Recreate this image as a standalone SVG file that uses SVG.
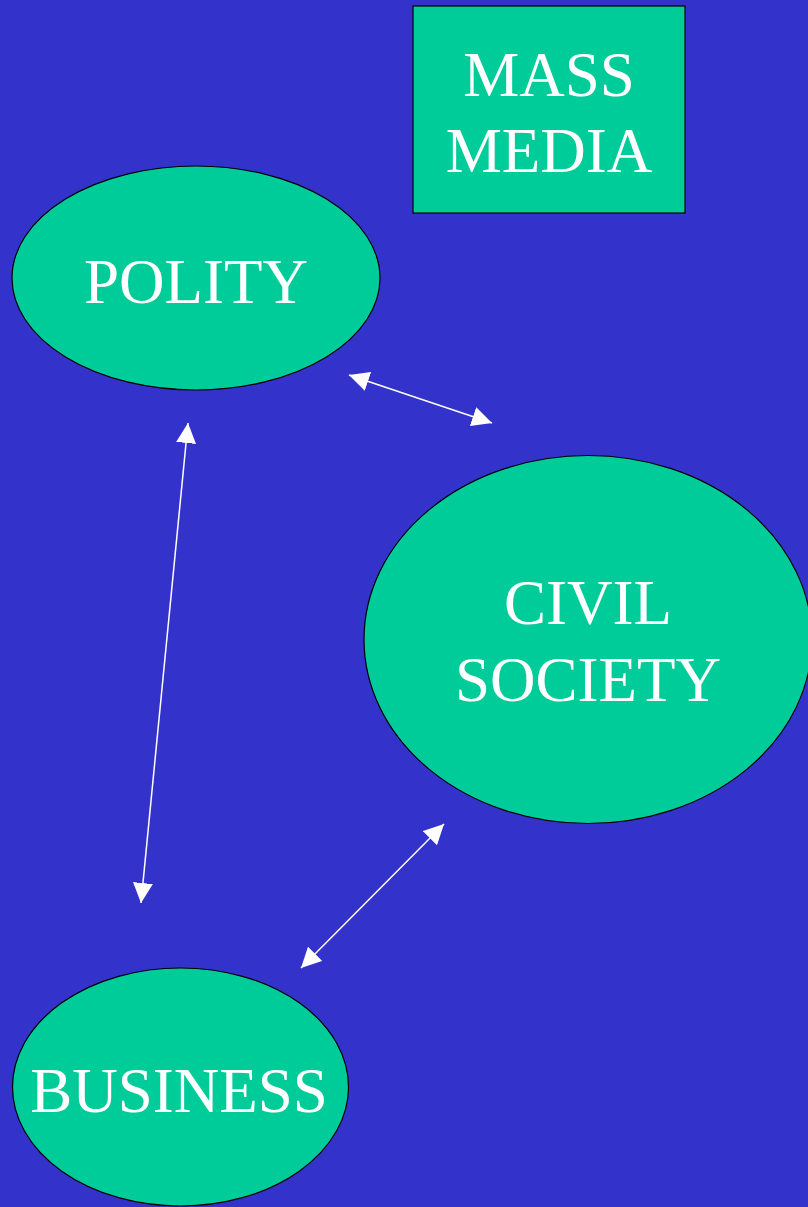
<svg xmlns="http://www.w3.org/2000/svg" width="808" height="1207" viewBox="0 0 808 1207">
<defs>
<style>
.node{fill:#00CC99;stroke:#000000;stroke-width:1.2}
.lbl{font-family:"Liberation Serif","Times New Roman",serif;font-size:63px;fill:#FFFFFF;text-anchor:middle}
.conn{stroke:#FFFFFF;stroke-width:1.5;fill:none;marker-start:url(#ah);marker-end:url(#ah)}
</style>
<marker id="ah" viewBox="0 0 20 20" refX="20" refY="10" markerWidth="20" markerHeight="20" markerUnits="userSpaceOnUse" orient="auto-start-reverse">
<path d="M0,0 L20,10 L0,20 z" fill="#FFFFFF"/>
</marker>
</defs>
<rect x="0" y="0" width="808" height="1207" fill="#3333CC"/>
<g id="mass-media">
<rect class="node" x="413" y="6" width="272" height="207"/>
<text class="lbl" x="549" y="96">MASS</text>
<text class="lbl" x="549" y="172">MEDIA</text>
</g>
<g id="polity">
<ellipse class="node" cx="196" cy="278" rx="184" ry="112"/>
<text class="lbl" x="196" y="303">POLITY</text>
</g>
<g id="civil-society">
<ellipse class="node" cx="588" cy="639.5" rx="224" ry="184"/>
<text class="lbl" x="588" y="624">CIVIL</text>
<text class="lbl" x="588" y="701">SOCIETY</text>
</g>
<g id="business">
<ellipse class="node" cx="180.5" cy="1087" rx="168" ry="119"/>
<text class="lbl" x="179" y="1112">BUSINESS</text>
</g>
<g id="connectors">
<line class="conn" x1="349" y1="375" x2="492" y2="423"/>
<line class="conn" x1="188" y1="423" x2="141" y2="903"/>
<line class="conn" x1="444" y1="824" x2="301" y2="968"/>
</g>
</svg>
